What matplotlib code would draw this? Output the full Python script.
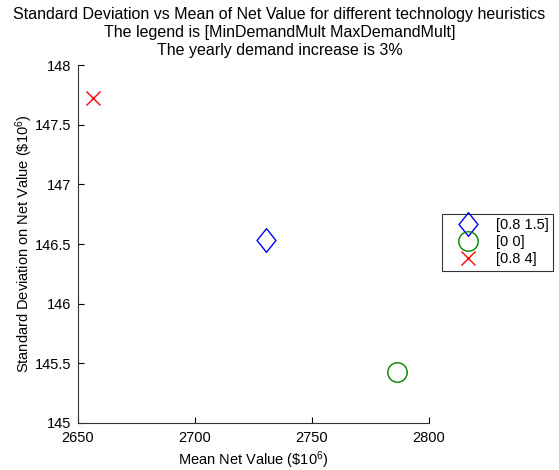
import matplotlib
matplotlib.use("Agg")
import matplotlib.pyplot as plt
from matplotlib.path import Path

plt.rcParams['font.family'] = ['Liberation Sans', 'DejaVu Sans']
plt.rcParams['mathtext.fontset'] = 'custom'
plt.rcParams['mathtext.rm'] = 'Liberation Sans'
plt.rcParams['mathtext.it'] = 'Liberation Sans'
plt.rcParams['mathtext.default'] = 'regular'

# Heuristic results: mean and standard deviation of net value (in $10^6)
labels = ['[0.8 1.5]', '[0 0]', '[0.8 4]']
mean_values = [2730.3, 2786.3, 2656.4]
std_values = [146.53, 145.43, 147.72]
colors = ['#0000ff', '#008000', '#ff0000']

xticks = [2650, 2700, 2750, 2800]
yticks = [145, 145.5, 146, 146.5, 147, 147.5, 148]
yticklabels = ['145', '145.5', '146', '146.5', '147', '147.5', '148']

title_lines = ['Standard Deviation vs Mean of Net Value for different technology heuristics',
               'The legend is [MinDemandMult MaxDemandMult]',
               'The yearly demand increase is 3%']

diamond = Path([(0, 0.5), (0.4, 0), (0, -0.5), (-0.4, 0), (0, 0.5)],
               [Path.MOVETO, Path.LINETO, Path.LINETO, Path.LINETO, Path.CLOSEPOLY])
markers = [diamond, 'o', 'x']
sizes = [17, 14, 10]

fig = plt.figure(figsize=(5.59, 4.70), dpi=100)
ax = fig.add_axes([0.1395, 0.100, 0.628, 0.7617])

for xm, ys, lab, c, m, s in zip(mean_values, std_values, labels, colors, markers, sizes):
    ax.plot([xm], [ys], linestyle='none', marker=m, markersize=s,
            markerfacecolor='none', markeredgecolor=c, markeredgewidth=1.0,
            label=lab)

ax.set_xlim(2650, 2800)
ax.set_ylim(145, 148)
ax.set_xticks(xticks)
ax.set_xticklabels([str(t) for t in xticks])
ax.set_yticks(yticks)
ax.set_yticklabels(yticklabels)
ax.tick_params(direction='in', length=4, width=0.8, labelsize=10.5, colors='black')
ax.tick_params(axis='x', pad=6)
ax.tick_params(axis='y', pad=5)
ax.spines['top'].set_visible(False)
ax.spines['right'].set_visible(False)
for sp in ('left', 'bottom'):
    ax.spines[sp].set_linewidth(0.8)
    ax.spines[sp].set_color('#333333')

ax.set_xlabel(r'Mean Net Value (\$10$^{6}$)', fontsize=10.5, labelpad=3)
ax.set_ylabel(r'Standard Deviation on Net Value (\$10$^{6}$)', fontsize=10.5, labelpad=0)

# Three-line title, one text per line
for i, line in enumerate(title_lines):
    fig.text(0.5, 1 - (15 + 17.5 * i) / 470, line,
             ha='center', va='center', fontsize=11.5)

leg = ax.legend(loc='upper left', bbox_to_anchor=(442 / 559, 1 - 214 / 470),
                bbox_transform=fig.transFigure, frameon=True, fancybox=False,
                fontsize=10.5, borderpad=0.3, labelspacing=0.2,
                handlelength=2.9, handletextpad=0.5, borderaxespad=0,
                markerscale=1.0)
leg.get_frame().set_edgecolor('black')
leg.get_frame().set_linewidth(0.8)

fig.savefig('out.png', dpi=100, facecolor='white')
